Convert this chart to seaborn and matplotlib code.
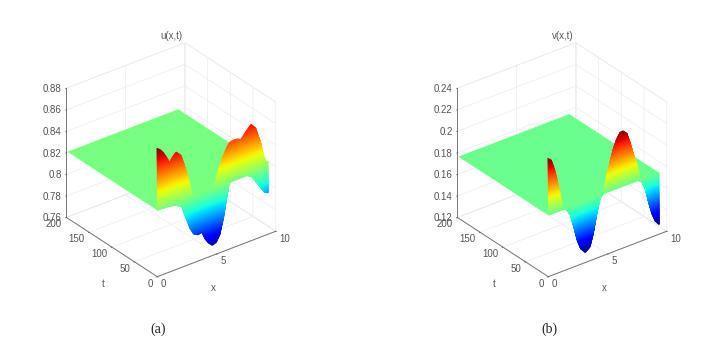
import numpy as np
import matplotlib
matplotlib.use("Agg")
import matplotlib.pyplot as plt
import seaborn as sns
from mpl_toolkits.mplot3d import proj3d

x_u = [0, .25, .5, .8, 1.07, 1.35, 1.63, 2.05, 2.4, 2.75, 3.05, 3.45, 3.75, 4.0, 4.3, 4.65, 5.0, 5.3, 5.6, 5.85,
       6.1, 6.4, 6.75, 7.1, 7.5, 7.95, 8.35, 8.8, 9.05, 9.25, 9.4]
u_high = [.879, .877, .8738, .868, .862, .866, .8688, .8639, .8515, .8363, .8225, .8215, .8215, .8215, .8215, .8215,
          .830, .841, .849, .8545, .8585, .8595, .8592, .8576, .863, .8678, .863, .847, .833, .828, .827]
u_low = [.8215, .8215, .821, .821, .8205, .820, .819, .816, .804, .793, .7866, .7841, .785, .7782, .773, .7693,
         .7708, .7765, .790, .806, .8205, .8255, .825, .8237, .822, .819, .812, .804, .800, .7986, .7985]
u_steady = .8215
u_clim = (.7652, .879)

x_v = [0, .3, .6, .87, 1.15, 1.43, 1.57, 1.85, 2.13, 2.42, 2.7, 3.12, 3.54, 3.82, 4.1, 4.38, 4.66, 4.94, 5.22, 5.5,
       5.79, 6.07, 6.35, 6.69, 6.97, 7.25, 7.53, 7.75, 7.9, 8.17, 8.45, 8.74, 9.0, 9.3, 9.4]
v_high = [.2297, .2269, .2164, .2028, .1861, .177, .177, .177, .177, .177, .177, .177, .177, .177, .177, .177, .177,
          .1914, .2041, .2152, .2232, .2282, .2285, .2248, .2149, .2031, .1926, .1824, .177, .177, .177, .177, .177,
          .177, .177]
v_low = [.177, .177, .177, .177, .177, .1765, .175, .1691, .1571, .1435, .1345, .129, .1324, .1438, .1596, .1738, .178,
         .178, .1785, .1787, .179, .179, .179, .1788, .1783, .1778, .1772, .176, .1744, .1667, .1531, .141, .1336,
         .1293, .129]
v_steady = .177
v_clim = (.129, .2297)

x_ticks = [0, 5, 10]
t_ticks = [0, 50, 100, 150, 200]
u_ticks = [.76, .78, .80, .82, .84, .86, .88]
u_labels = ["0.76", "0.78", "0.8", "0.82", "0.84", "0.86", "0.88"]
v_ticks = [.12, .14, .16, .18, .20, .22, .24]
v_labels = ["0.12", "0.14", "0.16", "0.18", "0.2", "0.22", "0.24"]

sns.set_theme(style="white")
plt.rcParams["font.family"] = ["Liberation Sans"]
jet = matplotlib.colormaps["jet"]

W, H = 724, 349
fig = plt.figure(figsize=(W / 100, H / 100), dpi=100)
TXT = "#555555"


def panel(x, high, low, steady, clim, zticks, zlabels, name, tag, dx):
    ax = fig.add_axes([0, 0, 340 / W, 340 / H], projection="3d", computed_zorder=False)
    ax.patch.set_alpha(0)
    ax.view_init(elev=30, azim=-127.5)
    ax.set_proj_type("ortho")
    ax.set_xlim(0, 10, view_margin=0)
    ax.set_ylim(0, 200, view_margin=0)
    ax.set_zlim(zticks[0], zticks[-1], view_margin=0)
    ax.set_box_aspect((1, 1, 1))

    norm = plt.Normalize(*clim)
    # steady part of the solution, t up to 200
    plane_x, plane_t = np.meshgrid([x[0], x[-1]], [0.6, 200])
    ax.plot_surface(plane_x, plane_t, np.full_like(plane_x, steady, dtype=float),
                    color=jet(norm(steady)), shade=False, linewidth=0.3, antialiased=True, zorder=1)
    # fast transient near t = 0; display mesh finer than the values read, like "shading interp"
    mesh_x = np.linspace(x[0], x[-1], 210)
    mesh_high = np.interp(mesh_x, x, high)
    mesh_low = np.interp(mesh_x, x, low)
    mix = np.linspace(0, 1, 45)
    Z = np.vstack([mesh_low + (mesh_high - mesh_low) * m for m in mix])
    X, T = np.meshgrid(mesh_x, mix)
    cells = (Z[:-1, :-1] + Z[1:, :-1] + Z[:-1, 1:] + Z[1:, 1:]) / 4
    ax.plot_surface(X, T, Z, facecolors=jet(norm(cells)), rstride=1, cstride=1,
                    shade=False, linewidth=0.3, antialiased=True, zorder=2)

    ax.set_xticks(x_ticks)
    ax.set_yticks(t_ticks)
    ax.set_zticks(zticks)
    ax.set_zticklabels(zlabels)
    ax.tick_params(labelsize=7, colors=TXT)
    ax.tick_params(axis="x", pad=-3)
    ax.tick_params(axis="y", pad=-3)
    ax.tick_params(axis="z", pad=-5)
    aligned = {ax.xaxis: ("left", "center"), ax.yaxis: ("right", "center"),
               ax.zaxis: ("right", "center_baseline")}
    for axis, (ha, va) in aligned.items():
        for tick in axis.get_major_ticks():
            tick.label1.set_ha(ha)
            tick.label1.set_va(va)
    for axis in (ax.xaxis, ax.yaxis, ax.zaxis):
        axis.set_pane_color((1, 1, 1, 1))
        axis.pane.set_edgecolor("#ececec")
        axis.pane.set_linewidth(0.5)
        axis.line.set_color("#777777")
        axis.line.set_linewidth(0.7)
        axis._axinfo["grid"].update(color="#ececec", linewidth=0.5)
        axis._axinfo["tick"].update(inward_factor=0.08, outward_factor=0.0, linewidth={True: .6, False: .6})

    def px(a, b, c):
        xs, ys, _ = proj3d.proj_transform(a, b, c, ax.get_proj())
        return ax.transData.transform((xs, ys))

    fig.canvas.draw()
    span = px(10, 0, zticks[0])[0] - px(0, 200, zticks[0])[0]
    ax.set_box_aspect((1, 1, 1), zoom=209.3 / span)
    fig.canvas.draw()
    p = px(0, 0, zticks[0])
    ax.set_position([(157.3 + dx - p[0]) / W, (H - 276.7 - p[1]) / H, 340 / W, 340 / H])
    fig.canvas.draw()
    fig.text((171.7 + dx) / W, 1 - 36 / H, name, fontsize=7, color=TXT, ha="center", va="center")
    fig.text((213.7 + dx) / W, 1 - 287.7 / H, "x", fontsize=7, color=TXT, ha="center", va="center")
    fig.text((103.3 + dx) / W, 1 - 284.3 / H, "t", fontsize=7, color=TXT, ha="center", va="center")
    fig.text((158 + dx) / W, 1 - 329 / H, tag, fontsize=10, family="Liberation Serif", color="#222222",
             ha="center", va="center")


panel(x_u, u_high, u_low, u_steady, u_clim, u_ticks, u_labels, "u(x,t)", "(a)", 0)
panel(x_v, v_high, v_low, v_steady, v_clim, v_ticks, v_labels, "v(x,t)", "(b)", 391)
fig.savefig("out.png", dpi=100, facecolor="white")
